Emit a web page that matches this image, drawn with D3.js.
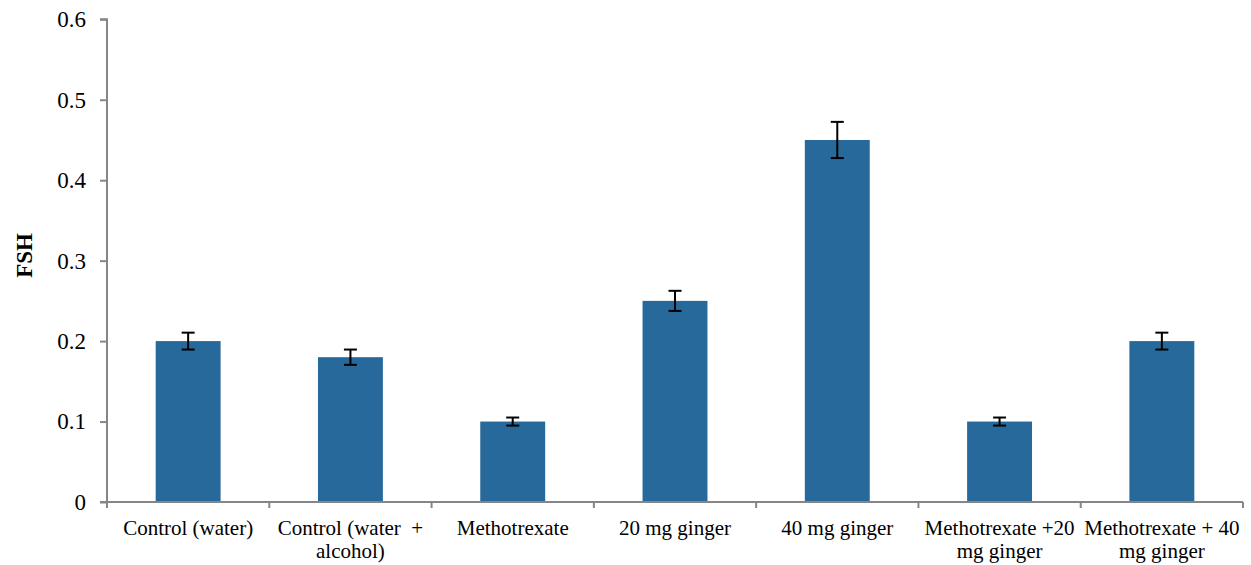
<!DOCTYPE html>
<html>
<head>
<meta charset="utf-8">
<script src="https://cdn.jsdelivr.net/npm/d3@7/dist/d3.min.js"></script>
<style>
html,body{margin:0;padding:0;background:#fff;}
svg{display:block;}
</style>
</head>
<body>
<svg id="chart" width="1251" height="565"></svg>
<script>
const categories = [
  ["Control (water)"],
  ["Control (water  +", "alcohol)"],
  ["Methotrexate"],
  ["20 mg ginger"],
  ["40 mg ginger"],
  ["Methotrexate +20", "mg ginger"],
  ["Methotrexate + 40", "mg ginger"]
];
const values = [0.2, 0.18, 0.1, 0.25, 0.45, 0.1, 0.2];
const errors = [0.0105, 0.0095, 0.005, 0.0125, 0.0225, 0.005, 0.0105];
const yTicks = [0, 0.1, 0.2, 0.3, 0.4, 0.5, 0.6];
const yLabel = "FSH";

(function() {
const FONT = "Liberation Serif";
const svg = d3.select("#chart");
const mLeft = 107, mRight = 1243, mTop = 19.3, mBottom = 502;
const ids = categories.map((c, i) => i);

const x = d3.scaleBand().domain(ids).range([mLeft, mRight]).padding(0);
const y = d3.scaleLinear().domain([0, 0.6]).range([mBottom, mTop]);
const barW = x.bandwidth() * 0.4;
const axisColor = "#868686";

// bars
svg.append("g").selectAll("rect").data(values).join("rect")
  .attr("x", (d, i) => x(i) + x.bandwidth() / 2 - barW / 2)
  .attr("y", d => y(d))
  .attr("width", barW)
  .attr("height", d => y(0) - y(d))
  .attr("fill", "#27699a");

// error bars
const eg = svg.append("g").attr("stroke", "#000").attr("stroke-width", 2);
values.forEach((v, i) => {
  const cx = x(i) + x.bandwidth() / 2;
  const y1 = y(v + errors[i]), y2 = y(v - errors[i]);
  eg.append("line").attr("x1", cx).attr("x2", cx).attr("y1", y1).attr("y2", y2);
  eg.append("line").attr("x1", cx - 6.5).attr("x2", cx + 6.5).attr("y1", y1).attr("y2", y1);
  eg.append("line").attr("x1", cx - 6.5).attr("x2", cx + 6.5).attr("y1", y2).attr("y2", y2);
});

// y axis
const yAxis = d3.axisLeft(y).tickValues(yTicks).tickSize(7).tickPadding(14)
  .tickFormat(d => d === 0 ? "0" : d3.format(".1f")(d));
const gy = svg.append("g").attr("transform", `translate(${mLeft},0)`).call(yAxis);
gy.select(".domain").attr("stroke", axisColor).attr("stroke-width", 2).attr("d", `M-7,${y(0.6)}H0V${y(0)}`);
gy.selectAll(".tick line").attr("stroke", axisColor).attr("stroke-width", 2);
gy.selectAll(".tick text").style("font-family", FONT).style("font-size", "23px").attr("fill", "#000");

// x axis
const gx = svg.append("g").attr("transform", `translate(0,${mBottom})`);
gx.append("line").attr("x1", mLeft - 7).attr("x2", mRight).attr("y1", 0).attr("y2", 0)
  .attr("stroke", axisColor).attr("stroke-width", 2);
const tickPos = ids.map(i => x(i)).concat([mRight]);
gx.selectAll("line.tk").data(tickPos).join("line").attr("class", "tk")
  .attr("x1", d => d).attr("x2", d => d).attr("y1", 0).attr("y2", 6)
  .attr("stroke", axisColor).attr("stroke-width", 2);

const lbl = gx.selectAll("text.cat").data(categories).join("text").attr("class", "cat")
  .attr("text-anchor", "middle").style("font-family", FONT).style("font-size", "21px").attr("fill", "#000")
  .attr("transform", (d, i) => `translate(${x(i) + x.bandwidth() / 2},0)`);
lbl.each(function(lines) {
  const t = d3.select(this);
  lines.forEach((ln, k) => {
    t.append("tspan").attr("x", 0).attr("y", 33 + k * 23).style("white-space", "pre").text(ln);
  });
});

// y label
svg.append("text").attr("transform", `translate(32,255.5) rotate(-90)`)
  .attr("text-anchor", "middle").style("font-family", FONT).style("font-weight", "bold").style("font-size", "23px")
  .attr("fill", "#000").text(yLabel);
})();
</script>
</body>
</html>
